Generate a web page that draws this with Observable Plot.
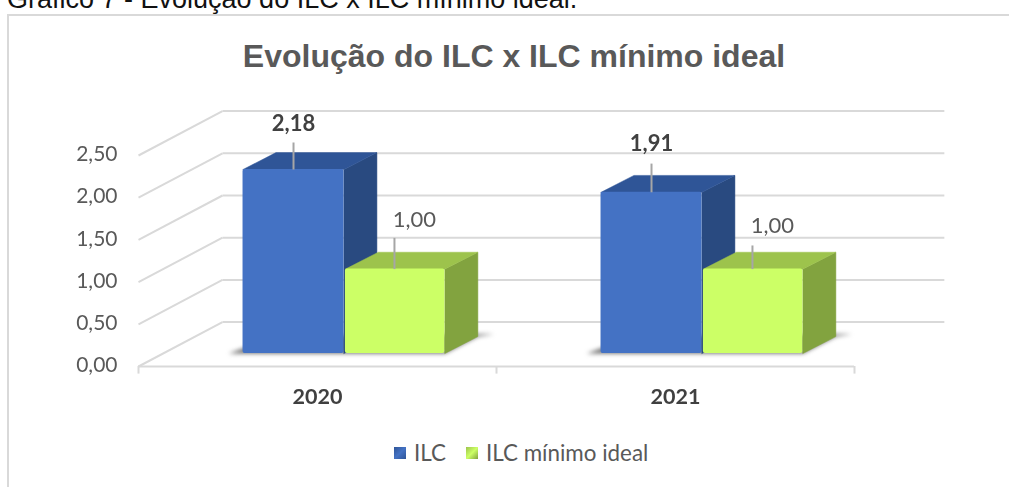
<!DOCTYPE html>
<html lang="pt">
<head>
<meta charset="utf-8">
<script src="https://cdn.jsdelivr.net/npm/d3@7"></script>
<script src="https://cdn.jsdelivr.net/npm/@observablehq/plot@0.6"></script>
<style>
html,body{margin:0;padding:0;background:#fff;width:1009px;height:487px;overflow:hidden;}
#cap{position:absolute;left:7px;top:-16px;font:27px/31px "Liberation Sans",Arial,sans-serif;color:#111;white-space:nowrap;}
#frame{position:absolute;left:7px;top:14px;width:1002px;height:473px;border-top:2px solid #d9d9d9;border-left:2px solid #d9d9d9;box-sizing:border-box;}
#title{position:absolute;left:0;width:1028px;top:39px;text-align:center;font:bold 32px/34px "Liberation Sans",Arial,sans-serif;color:#595959;margin:0;white-space:nowrap;}
#chart{position:absolute;left:0;top:90px;}
#legend{position:absolute;left:394px;top:440px;font:22.4px/26px Lato,sans-serif;color:#595959;white-space:nowrap;display:flex;align-items:center;}
#legend i{display:inline-block;width:12px;height:12px;margin-right:8px;}
#legend span{display:flex;align-items:center;margin-right:20px;}
</style>
</head>
<body>
<div id="cap">Gráfico 7 - Evolução do ILC x ILC mínimo ideal.</div>
<div id="frame"></div>
<h1 id="title">Evolução do ILC x ILC mínimo ideal</h1>
<div id="chart"></div>
<div id="legend"></div>
<script>
const years = ["2020", "2021"];
const seriesNames = ["ILC", "ILC mínimo ideal"];
const ilc = [2.18, 1.91];
const ilcMinimo = [1.00, 1.00];
const yTicks = [0, 0.5, 1, 1.5, 2, 2.5];

const palette = {
  ILC: {front: "#4472c4", top: "#2f5597", side: "#294a80", swatch: "linear-gradient(135deg,#2f5597,#4472c4 50%,#2f5597)"},
  min: {front: "#ccff66", top: "#9dc34c", side: "#82a33f", swatch: "linear-gradient(135deg,#9dc34c,#ccff66 50%,#82a33f)"}
};

// oblique projection of the 3-D box, in scale units
const wallDx = 0.2346, wallDy = 0.526, wallEnd = 2.251;
const barW = 0.282, barLift = 0.154, barShift = 0.074, boxDx = 0.092, boxDy = 0.2;
const fmt = v => d3.format(".2f")(v).replace(".", ",");

function faces(values, side) {
  const out = [];
  values.forEach((v, i) => {
    const c = i + 0.5 + barShift;
    const x1 = side === "ILC" ? c - barW : c + 0.004;
    const x2 = side === "ILC" ? c : c + barW;
    const t = v + barLift;
    const poly = (name, pts) => pts.forEach(([x, y]) => out.push({face: name + i, x, y}));
    poly("side", [[x2, barLift], [x2 + boxDx, barLift + boxDy], [x2 + boxDx, t + boxDy], [x2, t]]);
    poly("top", [[x1, t], [x1 + boxDx, t + boxDy], [x2 + boxDx, t + boxDy], [x2, t]]);
  });
  return out;
}
const fill3d = (rows, prefix, color) =>
  Plot.line(rows.filter(d => d.face.startsWith(prefix)), {x: "x", y: "y", z: "face", fill: color, stroke: color, strokeWidth: 0.5, curve: "linear-closed"});
const front = (values, side, color) =>
  Plot.rect(values.map((v, i) => ({i, v})), {
    x1: d => side === "ILC" ? d.i + 0.5 + barShift - barW : d.i + 0.5 + barShift + 0.004,
    x2: d => side === "ILC" ? d.i + 0.5 + barShift : d.i + 0.5 + barShift + barW,
    y1: barLift, y2: d => d.v + barLift, fill: color, rx: 2
  });

const blue = faces(ilc, "ILC"), green = faces(ilcMinimo, "min");
const shadow = years.flatMap((_, i) => {
  const c = i + 0.5 + barShift;
  return [[c - barW - 0.04, barLift], [c + barW, barLift], [c + barW + boxDx, barLift + boxDy], [c + barW + boxDx + 0.045, barLift + boxDy + 0.03], [c - barW + boxDx, barLift + boxDy]]
    .map(([x, y]) => ({face: "s" + i, x, y}));
});

// label layout (value-unit lifts above each bar top, pixel nudge per series)
const labels = [
  {text: ilc[0], bar: 0, x: -barW / 2, top: ilc[0], lead: 0.32, lift: 0.545, bold: true},
  {text: ilc[1], bar: 1, x: -barW / 2, top: ilc[1], lead: 0.34, lift: 0.57, bold: true},
  {text: ilcMinimo[0], bar: 0, x: barW / 2, top: ilcMinimo[0], lead: 0.37, lift: 0.58, bold: false},
  {text: ilcMinimo[1], bar: 1, x: barW / 2, top: ilcMinimo[1], lead: 0.28, lift: 0.51, bold: false}
];
const lx = d => d.bar + 0.5 + barShift + d.x;

const plot = Plot.plot({
  width: 1009, height: 330,
  marginLeft: 138, marginRight: 0, marginTop: 0, marginBottom: 54,
  style: {fontFamily: "Lato, sans-serif", fontSize: "18px", background: "transparent", color: "#595959"},
  x: {domain: [0, 2.433]},
  y: {domain: [0, 3.27]},
  marks: [
    Plot.link(yTicks, {x1: 0, x2: wallDx, y1: d => d, y2: d => d + wallDy, stroke: "#d9d9d9", strokeWidth: 2}),
    Plot.link(yTicks, {x1: wallDx, x2: wallEnd, y1: d => d + wallDy, y2: d => d + wallDy, stroke: "#d9d9d9", strokeWidth: 2}),
    Plot.ruleY([0], {x1: 0, x2: 2, stroke: "#d9d9d9", strokeWidth: 2}),
    Plot.ruleX([0, 1, 2], {y1: 0, y2: -0.09, stroke: "#d9d9d9", strokeWidth: 2, clip: false}),
    Plot.line(shadow, {x: "x", y: "y", z: "face", fill: "#6f6f6f", stroke: "none", curve: "linear-closed", imageFilter: "blur(2px)"}),
    fill3d(blue, "side", palette.ILC.side),
    fill3d(blue, "top", palette.ILC.top),
    front(ilc, "ILC", palette.ILC.front),
    fill3d(green, "side", palette.min.side),
    fill3d(green, "top", palette.min.top),
    front(ilcMinimo, "min", palette.min.front),
    Plot.link(labels, {x1: lx, x2: lx, y1: d => d.top + barLift, y2: d => d.top + barLift + d.lead, stroke: "#a6a6a6", strokeWidth: 2}),
    Plot.text(labels.filter(d => d.bold), {x: lx, y: d => d.top + barLift + d.lift, text: d => fmt(d.text), fontWeight: "bold", fill: "#404040", fontSize: 22}),
    Plot.text(labels.filter(d => !d.bold), {x: lx, y: d => d.top + barLift + d.lift, text: d => fmt(d.text), dx: 20, fill: "#595959", fontSize: 22}),
    Plot.axisY({ticks: yTicks, tickFormat: fmt, tickSize: 0, tickPadding: 21, label: null, color: "#595959", fontSize: 21, dy: -1}),
    Plot.axisX({ticks: [0.5, 1.5], tickFormat: d => years[Math.floor(d)], tickSize: 0, tickPadding: 22, label: null, color: "#404040", fontWeight: "bold", fontSize: 21.5})
  ]
});
document.getElementById("chart").appendChild(plot);
plot.style.filter = "blur(0.4px)";

const legend = document.getElementById("legend");
seriesNames.forEach((n, i) => {
  const s = document.createElement("span");
  const sw = document.createElement("i");
  sw.style.background = (i ? palette.min : palette.ILC).swatch;
  s.appendChild(sw);
  s.appendChild(document.createTextNode(n));
  legend.appendChild(s);
});
</script>
</body>
</html>
